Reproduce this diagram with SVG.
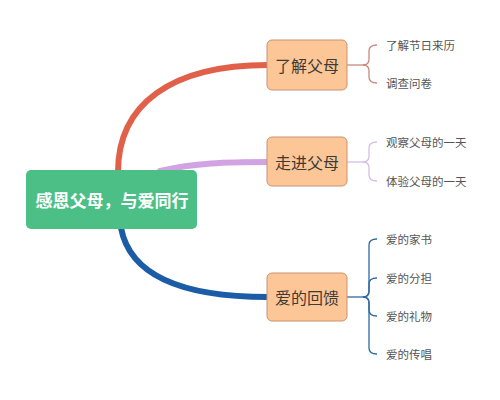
<svg xmlns="http://www.w3.org/2000/svg" width="500" height="400" viewBox="0 0 500 400">
<style>
.main{fill:none;stroke-width:6;stroke-linecap:round}
.sub{fill:none;stroke-width:1.3}
.box{fill:#fdc696;stroke:#c99270;stroke-width:1}
.boxt{font-family:"Noto Sans CJK SC","Noto Sans",sans-serif;font-size:16px;fill:#3f3a36;text-anchor:middle;dominant-baseline:central}
.leaf{font-family:"Noto Sans CJK SC","Noto Sans",sans-serif;font-size:11.5px;fill:#555;dominant-baseline:central}
</style>
<rect width="500" height="400" fill="#fff"/>
<g id="connectors">
<path class="main" stroke="#e0604a" d="M118,172 C118,105 170,65 268,65"/>
<path class="main" stroke="#d2a3e3" d="M160,171 C195,163 225,162 268,162"/>
<path class="main" stroke="#1a5ca6" d="M121,228 C130,275 180,297 268,297"/>
<g stroke="#c98a7e" class="sub">
<path d="M347,65 L363,65"/>
<path d="M363,65 Q369,65 369,59 L369,51 Q369,45 377,45"/>
<path d="M363,65 Q369,65 369,71 L369,77 Q369,83 377,83"/>
</g>
<g stroke="#d8bde6" class="sub">
<path d="M347,162 L363,162"/>
<path d="M363,162 Q369,162 369,156 L369,148 Q369,142 377,142"/>
<path d="M363,162 Q369,162 369,168 L369,175 Q369,181 377,181"/>
</g>
<g stroke="#2d6aa0" class="sub">
<path d="M347,297 L363,297"/>
<path d="M363,297 Q369,297 369,291 L369,245 Q369,239 377,239"/>
<path d="M363,297 Q369,297 369,291 L369,284 Q369,278 377,278"/>
<path d="M363,297 Q369,297 369,303 L369,310 Q369,316 377,316"/>
<path d="M363,297 Q369,297 369,303 L369,348 Q369,354 377,354"/>
</g>
</g>
<g id="root">
<rect x="26" y="170" width="171" height="59" rx="5" fill="#4cbf87"/>
<text x="112" y="199.5" font-family="Noto Sans CJK SC, Noto Sans, sans-serif" font-size="17" font-weight="bold" fill="#fff" text-anchor="middle" dominant-baseline="central">感恩父母，与爱同行</text>
</g>
<g id="n1">
<rect class="box" x="267" y="40" width="80" height="50" rx="5"/>
<text class="boxt" x="307" y="65">了解父母</text>
</g>
<g id="n2">
<rect class="box" x="267" y="137" width="80" height="49" rx="5"/>
<text class="boxt" x="307" y="162">走进父母</text>
</g>
<g id="n3">
<rect class="box" x="267" y="273" width="80" height="48" rx="5"/>
<text class="boxt" x="307" y="297">爱的回馈</text>
</g>
<g id="l1"><text class="leaf" x="386" y="45">了解节日来历</text></g>
<g id="l2"><text class="leaf" x="386" y="83">调查问卷</text></g>
<g id="l3"><text class="leaf" x="386" y="142">观察父母的一天</text></g>
<g id="l4"><text class="leaf" x="386" y="181">体验父母的一天</text></g>
<g id="l5"><text class="leaf" x="386" y="239">爱的家书</text></g>
<g id="l6"><text class="leaf" x="386" y="278">爱的分担</text></g>
<g id="l7"><text class="leaf" x="386" y="316">爱的礼物</text></g>
<g id="l8"><text class="leaf" x="386" y="354">爱的传唱</text></g>
</svg>
